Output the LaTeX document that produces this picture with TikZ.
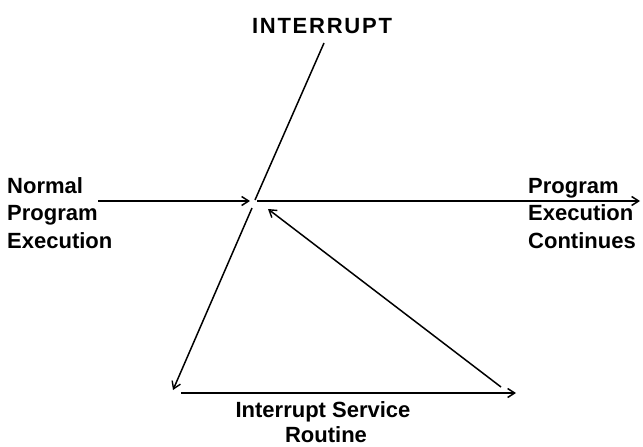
\documentclass[tikz,border=0pt]{standalone}
\usepackage{fontspec}
\setmainfont{Liberation Sans}
\usetikzlibrary{arrows.meta}
\begin{document}
\begin{tikzpicture}[x=1pt,y=-1pt,
  lbl/.style={inner sep=0pt,font=\fontsize{22}{26}\selectfont\bfseries},
  conn/.style={line width=1.8pt,-{Straight Barb[length=7pt,width=9pt,line width=1.5pt]}},
  thin conn/.style={line width=1.5pt,-{Straight Barb[length=7pt,width=9pt,line width=1.4pt]}}]
\useasboundingbox (0,0) rectangle (643,447);
% labels
\node[lbl,anchor=base] (intr) at (322,33) {\addfontfeatures{LetterSpace=8}INTERRUPT};
\node[lbl,anchor=base west] (n1) at (7,193) {Normal};
\node[lbl,anchor=base west] (n2) at (7,220) {Program};
\node[lbl,anchor=base west] (n3) at (7,248) {Execution};
\node[lbl,anchor=base west] (c1) at (528,193) {Program};
\node[lbl,anchor=base west] (c2) at (528,220) {Execution};
\node[lbl,anchor=base west] (c3) at (528,248) {Continues};
\node[lbl,anchor=base] (isr1) at (323,417) {Interrupt Service};
\node[lbl,anchor=base] (isr2) at (326,442) {Routine};
% points
\coordinate (itop) at (324,43);
\coordinate (j) at (255,200);
\coordinate (j2) at (252,208);
\coordinate (ibot) at (173,390);
\coordinate (hin) at (98,201);
\coordinate (hjin) at (250,201);
\coordinate (hjout) at (257,201);
\coordinate (hout) at (640,201);
\coordinate (rfrom) at (501,387);
\coordinate (rto) at (268,209);
\coordinate (bl) at (181,393);
\coordinate (br) at (516,393);
% connectors
\draw[line width=1.5pt] (itop) -- (j);
\draw[thin conn] (j2) -- (ibot);
\draw[conn] (hin) -- (hjin);
\draw[conn] (hjout) -- (hout);
\draw[thin conn] (rfrom) -- (rto);
\draw[conn] (bl) -- (br);
\end{tikzpicture}
\end{document}
